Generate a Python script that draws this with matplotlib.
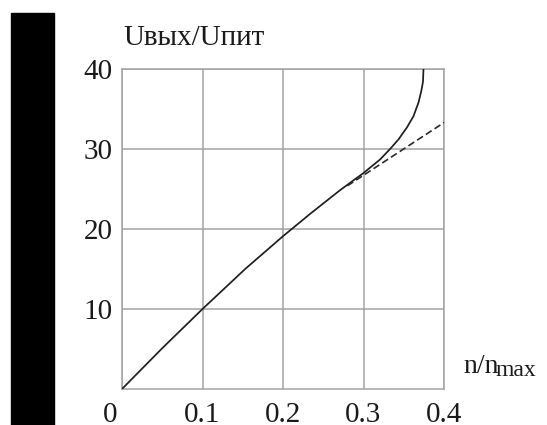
import matplotlib
matplotlib.use("Agg")
import matplotlib.pyplot as plt
import matplotlib.transforms as mtransforms
from matplotlib.patches import Rectangle

# solid curve
n_solid = [0, 0.05, 0.1, 0.153, 0.2, 0.235, 0.2715, 0.3, 0.3207, 0.333,
           0.3435, 0.354, 0.3621, 0.3683, 0.3717, 0.3739, 0.3745]
u_solid = [0, 5.1, 10, 15.0, 19.1, 22.0, 24.9, 27.0, 28.7, 30.0,
           31.2, 32.7, 34.1, 35.8, 37.2, 38.4, 40]

# dashed linear continuation
n_dash = [0.28, 0.4]
u_dash = [25.4, 33.3]

xticks = [0, 0.1, 0.2, 0.3, 0.4]
xtick_labels = ["0", "0.1", "0.2", "0.3", "0.4"]
yticks = [10, 20, 30, 40]
ytick_labels = ["10", "20", "30", "40"]

plt.rcParams["font.family"] = ["Liberation Serif", "DejaVu Serif"]
plt.rcParams["lines.scale_dashes"] = False

W, H = 547, 425
fig = plt.figure(figsize=(W / 100, H / 100), dpi=100)

# black strip on the left edge of the scan
fig.patches.append(Rectangle((11 / W, 0), 43 / W, (H - 13) / H,
                             transform=fig.transFigure, color="black", zorder=0))

ax = fig.add_axes([122 / W, 1 - 389 / H, 322 / W, 320 / H])
grid_col = "#a3a3a3"

ax.plot(n_solid, u_solid, color="#1e1e1e", lw=1.25, zorder=3)
ax.plot(n_dash, u_dash, color="#2a2a2a", lw=1.2, dashes=(5, 2.5), zorder=3)

ax.set_xlim(0, 0.4)
ax.set_ylim(0, 40)
ax.set_xticks(xticks)
ax.set_xticklabels(xtick_labels)
ax.set_yticks(yticks)
ax.set_yticklabels(ytick_labels)
ax.tick_params(axis="both", length=0, labelsize=21, labelcolor="#1a1a1a")
ax.tick_params(axis="x", pad=9)
ax.tick_params(axis="y", pad=6.5)
ax.grid(True, color=grid_col, lw=1.1)
for s in ax.spines.values():
    s.set_color(grid_col)
    s.set_linewidth(1.1)

# origin label sits a little left of the axis
lbl0 = ax.get_xticklabels()[0]
lbl0.set_transform(lbl0.get_transform() +
                   mtransforms.ScaledTranslation(-0.12, 0, fig.dpi_scale_trans))

fig.text(123 / W, 1 - 45 / H, "Uвых/Uпит", fontsize=21, color="#1a1a1a",
         ha="left", va="baseline")
fig.text(463 / W, 1 - 373 / H, "n/n", fontsize=20, color="#1a1a1a",
         ha="left", va="baseline")
fig.text(496 / W, 1 - 376 / H, "max", fontsize=17, color="#1a1a1a",
         ha="left", va="baseline")

fig.savefig("out.png", dpi=100)
